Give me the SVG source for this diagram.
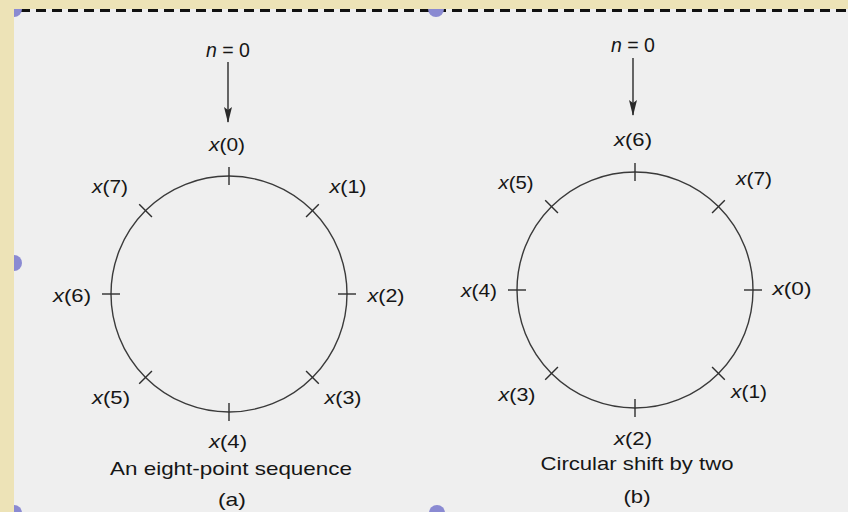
<svg xmlns="http://www.w3.org/2000/svg" width="848" height="512" viewBox="0 0 848 512">
<defs>
<style>
.lbl{font-family:"Liberation Sans",Arial,sans-serif;font-size:19px;fill:#161616;text-anchor:middle}
.top{font-size:21px}
.cap{font-family:"Liberation Sans",Arial,sans-serif;font-size:19px;fill:#161616;text-anchor:middle}
.it{font-style:italic}
.ring{fill:none;stroke:#3a3a3a;stroke-width:1.4}
.tick{stroke:#2e2e2e;stroke-width:1.4}
.arr{stroke:#2a2a2a;stroke-width:1.4;fill:none}
.dot{fill:#8a8ad2}
</style>
<clipPath id="content"><rect x="14" y="9" width="834" height="503"/></clipPath>
<marker id="head" markerUnits="userSpaceOnUse" viewBox="0 0 16 8" markerWidth="16" markerHeight="8" refX="15" refY="4" orient="auto">
<path d="M0,0 L16,4 L0,8 L3,4 z" fill="#2a2a2a"/>
</marker>
</defs>

<g id="background">
<rect x="0" y="0" width="848" height="512" fill="#ede3b7"/>
<rect x="14" y="9" width="834" height="503" fill="#efefef"/>
</g>

<g id="frame" clip-path="url(#content)">
<line x1="20" y1="10.5" x2="848" y2="10.5" stroke="#111" stroke-width="3" stroke-dasharray="10 6"/>
<circle class="dot" cx="14" cy="9" r="8"/>
<circle class="dot" cx="436" cy="9" r="8"/>
<circle class="dot" cx="14" cy="263" r="8"/>
<circle class="dot" cx="14" cy="513" r="8"/>
<circle class="dot" cx="437" cy="513" r="8"/>
</g>

<g id="connectors">
<line class="arr" x1="228" y1="62" x2="228" y2="122" marker-end="url(#head)"/>
<line class="arr" x1="633" y1="58" x2="633" y2="115" marker-end="url(#head)"/>
</g>

<g id="node-a">
<circle class="ring" cx="229" cy="294" r="118"/>
<line class="tick" x1="229" y1="185" x2="229" y2="167"/>
<line class="tick" x1="306.07" y1="216.93" x2="318.8" y2="204.2"/>
<line class="tick" x1="338" y1="294" x2="356" y2="294"/>
<line class="tick" x1="306.07" y1="371.07" x2="318.8" y2="383.8"/>
<line class="tick" x1="229" y1="403" x2="229" y2="421"/>
<line class="tick" x1="151.93" y1="371.07" x2="139.2" y2="383.8"/>
<line class="tick" x1="120" y1="294" x2="102" y2="294"/>
<line class="tick" x1="151.93" y1="216.93" x2="139.2" y2="204.2"/>
<text class="lbl top" x="228" y="57" textLength="44" lengthAdjust="spacingAndGlyphs"><tspan class="it">n</tspan> = 0</text>
<text class="lbl" x="227" y="151" textLength="36" lengthAdjust="spacingAndGlyphs"><tspan class="it">x</tspan>(0)</text>
<text class="lbl" x="348" y="193" textLength="37" lengthAdjust="spacingAndGlyphs"><tspan class="it">x</tspan>(1)</text>
<text class="lbl" x="386" y="302" textLength="37" lengthAdjust="spacingAndGlyphs"><tspan class="it">x</tspan>(2)</text>
<text class="lbl" x="343" y="404" textLength="37" lengthAdjust="spacingAndGlyphs"><tspan class="it">x</tspan>(3)</text>
<text class="lbl" x="228" y="448" textLength="38" lengthAdjust="spacingAndGlyphs"><tspan class="it">x</tspan>(4)</text>
<text class="lbl" x="111" y="404" textLength="38" lengthAdjust="spacingAndGlyphs"><tspan class="it">x</tspan>(5)</text>
<text class="lbl" x="72" y="302" textLength="38" lengthAdjust="spacingAndGlyphs"><tspan class="it">x</tspan>(6)</text>
<text class="lbl" x="110" y="193" textLength="36" lengthAdjust="spacingAndGlyphs"><tspan class="it">x</tspan>(7)</text>
<text class="cap" x="231" y="475" textLength="242" lengthAdjust="spacingAndGlyphs">An eight-point sequence</text>
<text class="cap" x="232" y="506" textLength="28" lengthAdjust="spacingAndGlyphs">(a)</text>
</g>

<g id="node-b">
<circle class="ring" cx="635" cy="290" r="118"/>
<line class="tick" x1="635" y1="181" x2="635" y2="163"/>
<line class="tick" x1="712.07" y1="212.93" x2="724.8" y2="200.2"/>
<line class="tick" x1="744" y1="290" x2="762" y2="290"/>
<line class="tick" x1="712.07" y1="367.07" x2="724.8" y2="379.8"/>
<line class="tick" x1="635" y1="399" x2="635" y2="417"/>
<line class="tick" x1="557.93" y1="367.07" x2="545.2" y2="379.8"/>
<line class="tick" x1="526" y1="290" x2="508" y2="290"/>
<line class="tick" x1="557.93" y1="212.93" x2="545.2" y2="200.2"/>
<text class="lbl top" x="633" y="52" textLength="44" lengthAdjust="spacingAndGlyphs"><tspan class="it">n</tspan> = 0</text>
<text class="lbl" x="633" y="146" textLength="38" lengthAdjust="spacingAndGlyphs"><tspan class="it">x</tspan>(6)</text>
<text class="lbl" x="754" y="185" textLength="36" lengthAdjust="spacingAndGlyphs"><tspan class="it">x</tspan>(7)</text>
<text class="lbl" x="792" y="295" textLength="39" lengthAdjust="spacingAndGlyphs"><tspan class="it">x</tspan>(0)</text>
<text class="lbl" x="749" y="398" textLength="36" lengthAdjust="spacingAndGlyphs"><tspan class="it">x</tspan>(1)</text>
<text class="lbl" x="633" y="445" textLength="38" lengthAdjust="spacingAndGlyphs"><tspan class="it">x</tspan>(2)</text>
<text class="lbl" x="517" y="401" textLength="37" lengthAdjust="spacingAndGlyphs"><tspan class="it">x</tspan>(3)</text>
<text class="lbl" x="479" y="297" textLength="36" lengthAdjust="spacingAndGlyphs"><tspan class="it">x</tspan>(4)</text>
<text class="lbl" x="516" y="189" textLength="35" lengthAdjust="spacingAndGlyphs"><tspan class="it">x</tspan>(5)</text>
<text class="cap" x="637" y="470" textLength="193" lengthAdjust="spacingAndGlyphs">Circular shift by two</text>
<text class="cap" x="637" y="503" textLength="27" lengthAdjust="spacingAndGlyphs">(b)</text>
</g>
</svg>
